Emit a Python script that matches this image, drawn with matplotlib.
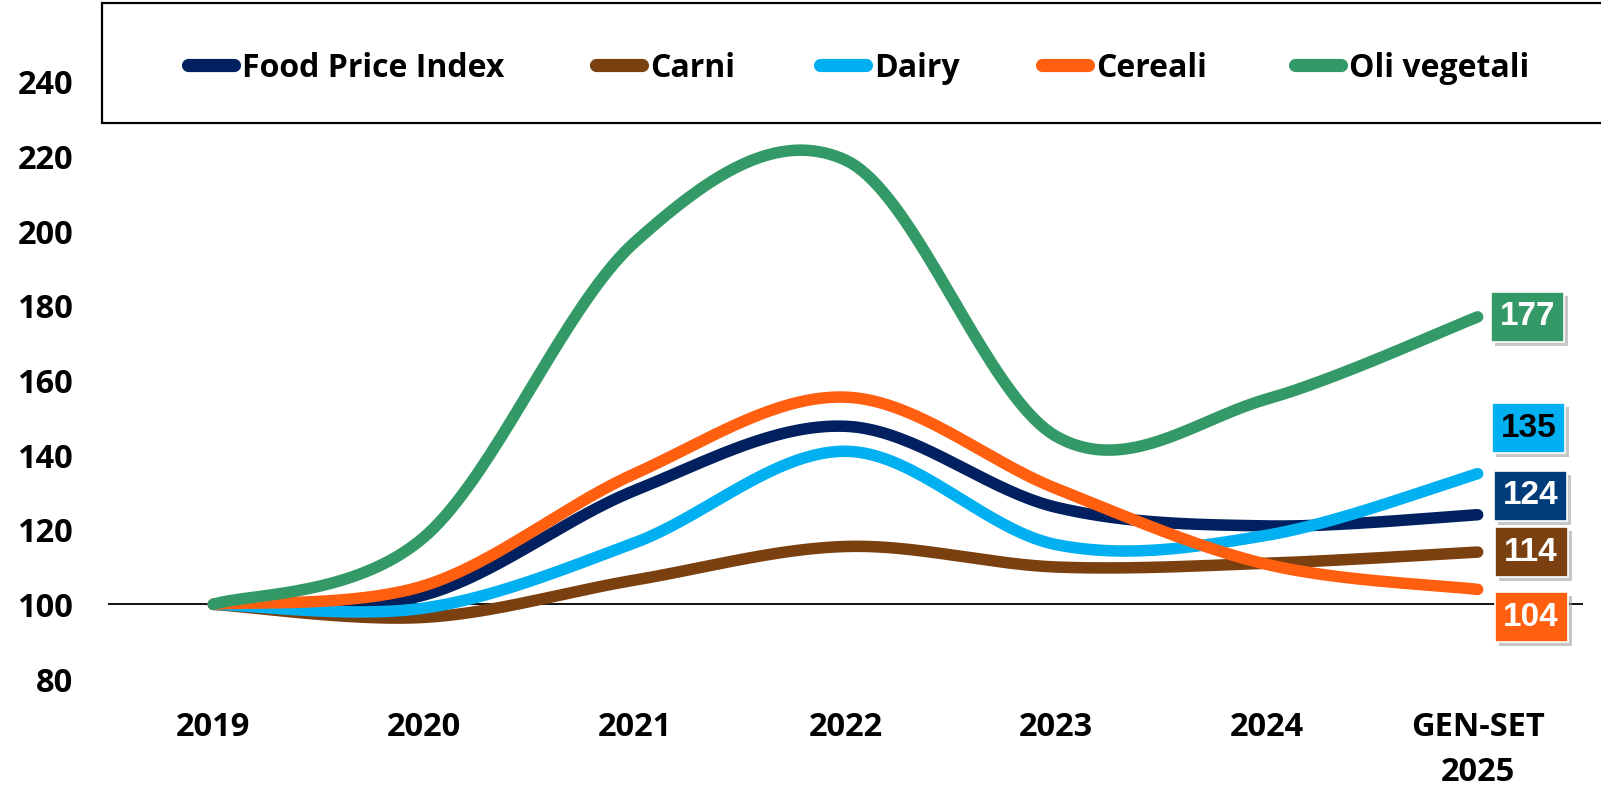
import numpy as np
import matplotlib
matplotlib.use("Agg")
import matplotlib.pyplot as plt
from matplotlib.patches import Rectangle
from matplotlib.lines import Line2D

# ---------------- data ----------------
categories = ["2019", "2020", "2021", "2022", "2023", "2024", "GEN-SET\n2025"]
series_names = ["Food Price Index", "Carni", "Dairy", "Cereali", "Oli vegetali"]
food_price_index = [100, 102.5, 130.5, 147.7, 126, 121, 124]
carni = [100, 96.5, 106.5, 115.5, 110, 111, 114]
dairy = [100, 99, 116.5, 141, 116, 118.5, 135]
cereali = [100, 105, 135, 155.5, 131, 110.7, 104]
oli_vegetali = [100, 118, 197, 219, 145, 155, 177]
yticks = [80, 100, 120, 140, 160, 180, 200, 220, 240]

line_colors = ["#002060", "#7B4010", "#00B0F0", "#FF5F0F", "#339966"]
box_colors = ["#003B7A", "#7B4010", "#00B0F0", "#FF5F0F", "#339966"]
box_text_colors = ["white", "white", "black", "white", "white"]
# label box centre offsets from the last point (pixels)
box_offsets = [(53, 19), (53.5, 0), (51, 45.5), (53.5, -28), (49.5, 0)]

all_series = [food_price_index, carni, dairy, cereali, oli_vegetali]


def excel_smooth(x, y, n=40):
    """Catmull-Rom style bezier smoothing through the points (like Excel smoothed lines)."""
    x = np.asarray(x, float)
    y = np.asarray(y, float)
    P = np.column_stack([x, y])
    m = len(P)
    out = []
    for i in range(m - 1):
        p0 = P[i - 1] if i > 0 else P[i]
        p1 = P[i]
        p2 = P[i + 1]
        p3 = P[i + 2] if i + 2 < m else P[i + 1]
        b1 = p1 + (p2 - p0) / 6.0
        b2 = p2 - (p3 - p1) / 6.0
        t = np.linspace(0, 1, n)[:, None]
        seg = ((1 - t) ** 3) * p1 + 3 * ((1 - t) ** 2) * t * b1 + 3 * (1 - t) * t ** 2 * b2 + t ** 3 * p2
        if i > 0:
            seg = seg[1:]
        out.append(seg)
    out = np.vstack(out)
    return out[:, 0], out[:, 1]


W, H = 1601, 792
fig = plt.figure(figsize=(W / 100, H / 100), dpi=100)
ax_left, ax_right = 108, 1583
ax_top_px, ax_bot_px = 81.7, 679
ax = fig.add_axes([ax_left / W, (H - ax_bot_px) / H, (ax_right - ax_left) / W, (ax_bot_px - ax_top_px) / H])

xs = np.arange(len(categories))
ax.set_xlim(-0.5, len(categories) - 0.5)
ax.set_ylim(80, 240)

for s in ax.spines.values():
    s.set_visible(False)

ax.axhline(100, color="black", lw=1.3, zorder=1)

for vals, col in zip(all_series, line_colors):
    sx, sy = excel_smooth(xs, vals)
    ax.plot(sx, sy, color=col, lw=8.3, solid_capstyle="round", solid_joinstyle="round", zorder=3)

ax.set_xticks(xs)
ax.set_xticklabels(categories, linespacing=1.5)
ax.set_yticks(yticks)
ax.set_yticklabels([str(v) for v in yticks])
for lab in ax.get_xticklabels() + ax.get_yticklabels():
    lab.set_fontfamily("Open Sans")
    lab.set_fontweight("bold")
    lab.set_fontsize(23.5)
ax.tick_params(axis="both", length=0)
ax.tick_params(axis="x", pad=23)
ax.tick_params(axis="y", pad=25)

# value boxes at the end of each series
fig.canvas.draw()
bw, bh = 73, 50
for vals, bcol, tcol, (dx, dy) in zip(all_series, box_colors, box_text_colors, box_offsets):
    px, py = ax.transData.transform((xs[-1], vals[-1]))
    cx, cy = px + dx, py + dy
    shadow = Rectangle((cx - bw / 2 + 4, cy - bh / 2 - 4), bw, bh, transform=None,
                       facecolor="#9a9a9a", edgecolor="none", alpha=0.55, zorder=5)
    fig.add_artist(shadow)
    box = Rectangle((cx - bw / 2, cy - bh / 2), bw, bh, transform=None,
                    facecolor=bcol, edgecolor="white", lw=1.2, zorder=6)
    fig.add_artist(box)
    fig.text(cx / W, cy / H, f"{round(vals[-1])}", ha="center", va="center",
             fontsize=24, fontweight="bold", family="Liberation Sans", color=tcol, zorder=7)

# legend box
leg_rect = Rectangle((102 / W, (H - 123) / H), (W + 20 - 102) / W, 120 / H, transform=fig.transFigure,
                     facecolor="white", edgecolor="black", lw=1.6, zorder=8)
fig.add_artist(leg_rect)
leg_y = (H - 64.5) / H
leg_starts = [182, 590, 814, 1036, 1289]
for name, col, x0 in zip(series_names, line_colors, leg_starts):
    fig.add_artist(Line2D([(x0 + 6) / W, (x0 + 52) / W], [leg_y, leg_y], transform=fig.transFigure,
                          color=col, lw=9.5, solid_capstyle="round", zorder=9))
    fig.text((x0 + 60) / W, leg_y, name, ha="left", va="center_baseline", fontsize=23,
             fontweight="bold", family="Open Sans", color="black", zorder=10)

fig.savefig("out.png", dpi=100)
